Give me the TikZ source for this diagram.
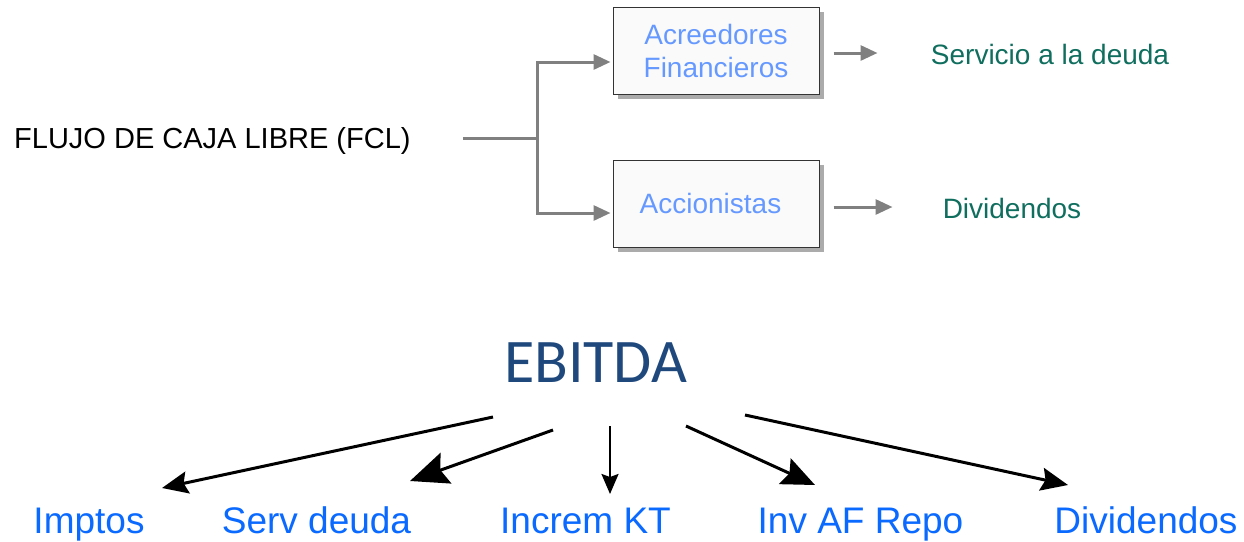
\documentclass[tikz,border=0pt]{standalone}
\usepackage{fontspec}
\setmainfont{Liberation Sans}
\newfontfamily\ebitdafont{Carlito}
\usepackage{tikz}
\usetikzlibrary{positioning, arrows.meta, shadows}

\definecolor{boxblue}{RGB}{102,153,255}
\definecolor{tealtxt}{RGB}{16,110,94}
\definecolor{itemblue}{RGB}{10,105,255}
\definecolor{ebitdablue}{RGB}{31,73,125}
\definecolor{linegray}{RGB}{128,128,128}

\begin{document}
\begin{tikzpicture}[
    x=1pt, y=-1pt,
    box/.style={draw=black!80, line width=1pt, fill=white!98!black, minimum width=206pt, minimum height=87pt,
        align=center, text=boxblue, font=\fontsize{28}{33}\selectfont,
        drop shadow={shadow xshift=5pt, shadow yshift=-5pt, fill=black!55, opacity=0.6}},
    top/.style={anchor=base, text=tealtxt, font=\fontsize{28}{33}\selectfont},
    item/.style={anchor=base, text=itemblue, font=\fontsize{37}{44}\selectfont},
    garrow/.style={-{Triangle[length=17pt, width=15pt]}, linegray, line width=3pt},
    gline/.style={linegray, line width=3pt},
    barrow/.style={-{Stealth[length=#1, width=0.85*#1, inset=0.15*#1]}, line width=3pt}
]
\useasboundingbox (0,0) rectangle (1244,541);

% Top: FCL split
\node[anchor=base west, font=\fontsize{29}{34}\selectfont, inner sep=0pt] (fcl) at (14,148) {FLUJO DE CAJA LIBRE (FCL)};
\coordinate (fork) at (537,138);
\node[box] (acre) at (716,50.5) {\raisebox{-3pt}{Acreedores}\\\raisebox{-3pt}{Financieros}};
\node[box] (acci) at (716,203.5) {\raisebox{-2pt}{\hspace*{-11pt}Accionistas}};
\node[top] (serv) at (1050,64) {Servicio a la deuda};
\node[top] (divtop) at (1012,218) {Dividendos};

\draw[gline] ([xshift=52pt, yshift=10pt]fcl.base east) -- (fork);
\draw[garrow] (fork) |- ([yshift=-11.5pt, xshift=-2pt]acre.west);
\draw[garrow] (fork) |- ([yshift=-9.5pt, xshift=-2pt]acci.west);
\draw[garrow] ([xshift=14pt, yshift=-2.5pt]acre.east) -- ([xshift=58pt, yshift=-2.5pt]acre.east);
\draw[garrow] ([xshift=14pt, yshift=-3.5pt]acci.east) -- ([xshift=73pt, yshift=-3.5pt]acci.east);

% Bottom: EBITDA
\node[anchor=base, text=ebitdablue, font=\fontsize{62}{70}\ebitdafont] (ebitda) at (595.5,382) {EBITDA};
\node[item] (imp) at (89,533) {Imptos};
\node[item] (sdeuda) at (316.5,533) {Serv deuda};
\node[item] (ikt) at (585.5,533) {Increm KT};
\node[item] (invaf) at (860.5,533) {Inv AF Repo};
\node[item] (divbot) at (1146,533) {Dividendos};

\coordinate (s1) at (493,417);
\coordinate (s2) at (553,430);
\coordinate (s3) at (610,426);
\coordinate (s4) at (686,426);
\coordinate (s5) at (745,415);
\coordinate (e1) at (162,488);
\coordinate (e2) at (410,481);
\coordinate (e3) at (610,494);
\coordinate (e4) at (815,485);
\coordinate (e5) at (1068,485);

\draw[barrow=26pt] (s1) -- (e1);
\draw[barrow=38pt] (s2) -- (e2);
\draw[barrow=20pt, line width=2.2pt] (s3) -- (e3);
\draw[barrow=33pt] (s4) -- (e4);
\draw[barrow=27pt] (s5) -- (e5);

\end{tikzpicture}
\end{document}
